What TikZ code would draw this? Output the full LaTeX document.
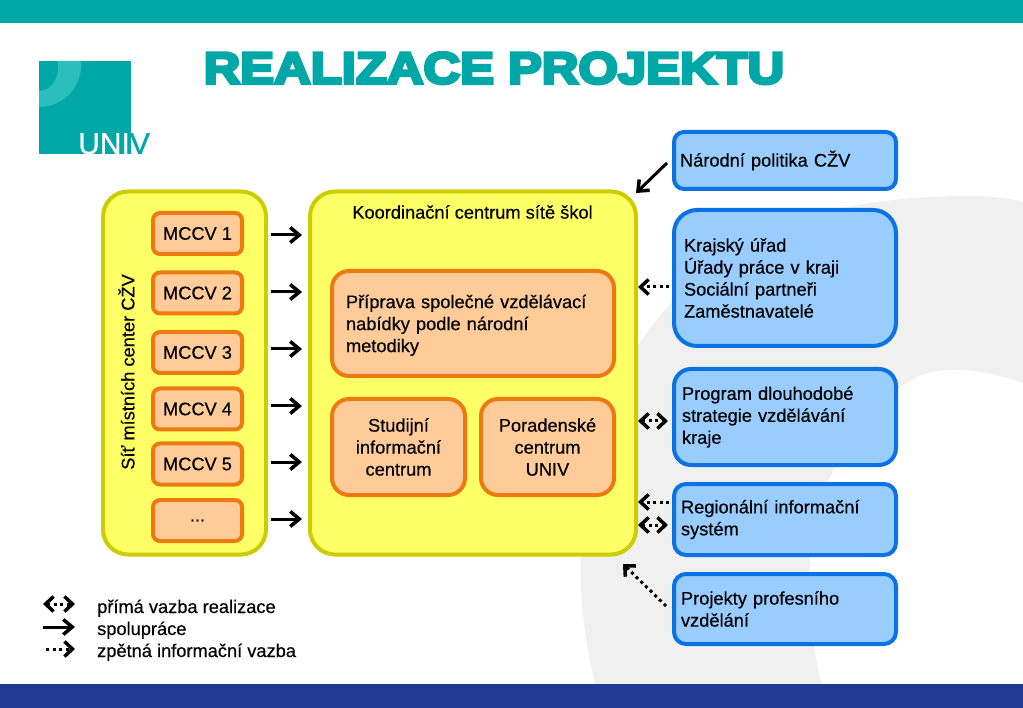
\documentclass[tikz,border=0pt]{standalone}
\usepackage{fontspec}
\usetikzlibrary{arrows.meta}
\setmainfont[FakeBold=0.35]{Liberation Sans}
\newfontfamily\titlefont[FakeStretch=1.14,FakeBold=7]{Liberation Sans Bold}
\newfontfamily\logofont[FakeBold=1]{Liberation Sans}
\definecolor{univteal}{HTML}{00A7A7}
\definecolor{univring}{HTML}{2CBDBD}
\definecolor{univnavy}{HTML}{203A92}
\definecolor{backgrey}{HTML}{F0F0F0}
\definecolor{yellowfill}{HTML}{FFFF66}
\definecolor{yellowline}{HTML}{CCCC00}
\definecolor{orangefill}{HTML}{FFCC99}
\definecolor{orangeline}{HTML}{EC7A10}
\definecolor{bluefill}{HTML}{99CCFF}
\definecolor{blueline}{HTML}{0A72E2}

\begin{document}
\begin{tikzpicture}[x=1pt,y=-1pt,
    font=\fontsize{18.25}{22}\selectfont,
    yellowbox/.style={rectangle,draw=yellowline,fill=yellowfill,line width=4pt,rounded corners=25pt},
    orangebox/.style={rectangle,draw=orangeline,fill=orangefill,line width=4pt},
    bluebox/.style={rectangle,draw=blueline,fill=bluefill,line width=4pt,align=left,inner ysep=0pt,
      minimum width=222pt,inner xsep=#1,text width=222pt-2*#1},
    solidarrow/.style={draw,line width=3pt,-{Straight Barb[length=9pt,width=15pt,line width=3.5pt]}},
    backarrow/.style={draw,line width=3pt,dash pattern=on 3pt off 3.5pt,-{Straight Barb[length=8pt,width=15pt,line width=3.5pt]}},
    bothway/.style={draw,line width=3pt,dash pattern=on 3pt off 3.5pt,
      {Straight Barb[length=8pt,width=15pt,line width=3.5pt]}-{Straight Barb[length=8pt,width=15pt,line width=3.5pt]}}]

  \useasboundingbox (0,0) rectangle (1023,708);

  % background
  \fill[backgrey] (595,684) .. controls (572,590) and (570,470) .. (637,347)
    .. controls (700,250) and (800,196) .. (967,196) .. controls (990,196) and (1010,198) .. (1023,202)
    -- (1023,383) .. controls (985,370) and (945,364) .. (917,377)
    .. controls (860,405) and (810,490) .. (810,567) .. controls (810,610) and (812,650) .. (822,684) -- cycle;
  \fill[univteal] (0,0) rectangle (1023,23);
  \fill[univnavy] (0,684) rectangle (1023,708);

  % logo
  \fill[univteal] (39,61) rectangle (131,154);
  \fill[univring] (58,61) -- (81,61) .. controls (83,85) and (65,107) .. (39,107) -- (39,91)
    .. controls (50,91) and (60,80) .. (58,61) -- cycle;
  \node[anchor=base west,inner sep=0pt,font=\logofont\fontsize{30}{30}\selectfont] (logo) at (78,154)
    {\textcolor{white}{UNI}\textcolor{univteal}{V}};

  \node[anchor=base,inner sep=0pt,text=univteal,font=\titlefont\fontsize{44.5}{50}\selectfont] (title) at (494,83.5)
    {REALIZACE PROJEKTU};

  % yellow boxes
  \begin{scope}[every node/.style={yellowbox}]
    \node[minimum width=163pt,minimum height=363pt] (sit)   at (184.5,373) {};
    \node[minimum width=326pt,minimum height=363pt] (stred) at (473,373) {};
  \end{scope}

  \node[rotate=90,inner sep=0pt] (sitlabel) at (126.5,372) {Síť místních center CŽV};
  \node[inner sep=0pt] (stredlabel) at (472.5,212) {Koordinační centrum sítě škol};

  % local centres
  \begin{scope}[every node/.style={orangebox,rounded corners=7pt,minimum width=89pt,minimum height=41pt}]
    \node (m1) at (197.5,233.5) {MCCV 1};
    \node (m2) at (197.5,293)   {MCCV 2};
    \node (m3) at (197.5,352.5) {MCCV 3};
    \node (m4) at (197.5,409)   {MCCV 4};
    \node (m5) at (197.5,464)   {MCCV 5};
    \node (m6) at (197.5,520.5) {...};
  \end{scope}

  \begin{scope}[every node/.style={orangebox,rounded corners=17pt}]
    \node[align=left,text width=254pt,inner xsep=14pt,minimum height=105pt] (priprava) at (473,323.5)
      {\rule{0pt}{17pt}Příprava společné vzdělávací\\nabídky podle národní\\metodiky};
    \node[align=center,minimum width=133pt,minimum height=96pt] (studijni) at (398.5,447)
      {Studijní\\informační\\centrum};
    \node[align=center,minimum width=133pt,minimum height=96pt] (poradna) at (547.5,447)
      {Poradenské\\centrum\\UNIV};
  \end{scope}

  % outside partners
  \node[bluebox=6pt,rounded corners=10pt,minimum height=57pt]  (narodni)  at (785,160.5) {Národní politika CŽV};
  \node[bluebox=10pt,rounded corners=23pt,minimum height=136pt] (krajsky)  at (785,278)
    {Krajský úřad\\Úřady práce v kraji\\Sociální partneři\\Zaměstnavatelé};
  \node[bluebox=8pt,rounded corners=17pt,minimum height=96pt]  (program)  at (785,417)
    {Program dlouhodobé\\strategie vzdělávání\\kraje};
  \node[bluebox=7pt,rounded corners=12pt,minimum height=71pt]  (region)   at (785,519.5)
    {Regionální informační\\systém};
  \node[bluebox=7pt,rounded corners=12pt,minimum height=70pt]  (projekty) at (785,609)
    {Projekty profesního\\vzdělání};

  % arrow ends
  \coordinate (a1) at (271,235);
  \coordinate (b1) at (302,235);
  \coordinate (a2) at (271,292);
  \coordinate (b2) at (302,292);
  \coordinate (a3) at (271,349);
  \coordinate (b3) at (302,349);
  \coordinate (a4) at (271,406);
  \coordinate (b4) at (302,406);
  \coordinate (a5) at (271,462);
  \coordinate (b5) at (302,462);
  \coordinate (a6) at (271,519);
  \coordinate (b6) at (302,519);
  \coordinate (c1) at (667,163);
  \coordinate (d1) at (636,193);
  \coordinate (c2) at (669,287);
  \coordinate (d2) at (638,287);
  \coordinate (c3) at (668,421);
  \coordinate (d3) at (638,421);
  \coordinate (c4) at (669,502);
  \coordinate (d4) at (638,502);
  \coordinate (c5) at (668,525);
  \coordinate (d5) at (638,525);
  \coordinate (c6) at (666,606);
  \coordinate (d6) at (623,564);

  \path (a1) edge[solidarrow] (b1);
  \path (a2) edge[solidarrow] (b2);
  \path (a3) edge[solidarrow] (b3);
  \path (a4) edge[solidarrow] (b4);
  \path (a5) edge[solidarrow] (b5);
  \path (a6) edge[solidarrow] (b6);
  \path (c1) edge[solidarrow] (d1);
  \path (c2) edge[backarrow] (d2);
  \path (d3) edge[bothway] (c3);
  \path (c4) edge[backarrow] (d4);
  \path (d5) edge[bothway] (c5);
  \path (c6) edge[backarrow] (d6);

  % legend
  \coordinate (l1) at (43,604);
  \coordinate (r1) at (75,604);
  \coordinate (l2) at (43,627);
  \coordinate (r2) at (75,627);
  \coordinate (l3) at (46,649);
  \coordinate (r3) at (75,649);
  \path (l1) edge[bothway] (r1);
  \path (l2) edge[solidarrow] (r2);
  \path (l3) edge[backarrow] (r3);

  \begin{scope}[every node/.style={anchor=base west,inner sep=0pt}]
    \node (t1) at (97,613) {přímá vazba realizace};
    \node (t2) at (97,635) {spolupráce};
    \node (t3) at (97,657) {zpětná informační vazba};
  \end{scope}

\end{tikzpicture}
\end{document}
